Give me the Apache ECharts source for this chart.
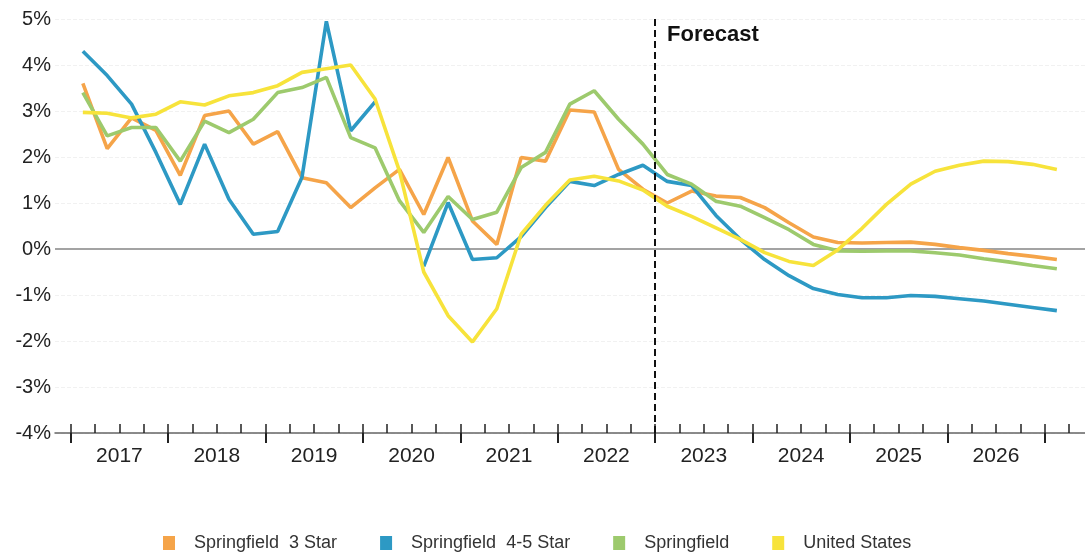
<!DOCTYPE html>
<html>
<head>
<meta charset="utf-8">
<script src="https://cdn.jsdelivr.net/npm/echarts@6/dist/echarts.min.js"></script>
<style>
  html, body { margin: 0; padding: 0; background: #fff; }
  #chart { width: 1085px; height: 555px; }
</style>
</head>
<body>
<div id="chart"></div>
<script>
// quarterly series, 2017 Q1 .. 2027 Q1 (growth, %)
const startYear = 2017;
const yearLabels = ['2017', '2018', '2019', '2020', '2021', '2022', '2023', '2024', '2025', '2026'];
const forecastStart = 2023;
const seriesNames = ['Springfield  3 Star', 'Springfield  4-5 Star', 'Springfield', 'United States'];

const star3 = [3.6, 2.18, 2.85, 2.58, 1.6, 2.9, 3.0, 2.28, 2.55, 1.55,
  1.44, 0.9, 1.33, 1.73, 0.75, 1.99, 0.61, 0.1, 1.99, 1.91,
  3.02, 2.98, 1.73, 1.3, 1.0, 1.26, 1.15, 1.12, 0.9, 0.57,
  0.26, 0.14, 0.13, 0.14, 0.15, 0.1, 0.03, -0.03, -0.1, -0.16, -0.23];
const star45 = [4.3, 3.77, 3.15, 2.1, 0.97, 2.28, 1.08, 0.32, 0.38, 1.56,
  4.95, 2.57, 3.2, null, -0.38, 1.01, -0.23, -0.19, 0.27, 0.9,
  1.47, 1.38, 1.62, 1.82, 1.47, 1.38, 0.73, 0.21, -0.23, -0.58,
  -0.86, -0.99, -1.06, -1.06, -1.01, -1.03, -1.08, -1.13, -1.2, -1.27, -1.34];
const springfield = [3.4, 2.46, 2.64, 2.64, 1.91, 2.78, 2.53, 2.82, 3.4, 3.51,
  3.73, 2.42, 2.2, 1.05, 0.36, 1.14, 0.64, 0.8, 1.77, 2.1,
  3.15, 3.44, 2.82, 2.28, 1.62, 1.41, 1.04, 0.93, 0.68, 0.42,
  0.1, -0.04, -0.05, -0.04, -0.04, -0.08, -0.13, -0.21, -0.28, -0.36, -0.43];
const unitedStates = [2.97, 2.95, 2.85, 2.93, 3.2, 3.13, 3.33, 3.4, 3.55, 3.84,
  3.92, 4.0, 3.26, 1.7, -0.5, -1.45, -2.02, -1.3, 0.32, 0.95,
  1.5, 1.58, 1.48, 1.28, 0.93, 0.71, 0.46, 0.21, -0.08, -0.27,
  -0.36, -0.02, 0.45, 0.97, 1.41, 1.69, 1.82, 1.91, 1.9, 1.84, 1.73];

const colors = ['#F5A449', '#2D99C4', '#9DCA6D', '#F7E33B'];
const font = "'Liberation Sans', Arial, sans-serif";

// each value sits in the middle of its quarter
const toPoints = (arr) => arr.map((v, i) => [startYear + (i + 0.5) / 4, v]);

const xMin = 2016.839;
const xMax = 2027.414;
const quarterTicks = [];
for (let t = startYear; t <= xMax; t += 0.25) quarterTicks.push(t);
const yearTicks = yearLabels.map(y => +y).concat([+yearLabels[yearLabels.length - 1] + 1]);
const yearMids = yearLabels.map(y => +y + 0.5);

const myChart = echarts.init(document.getElementById('chart'));

const lineSeries = (name, data, color) => ({
  name: name,
  type: 'line',
  data: toPoints(data),
  xAxisIndex: 0,
  symbol: 'none',
  connectNulls: false,
  lineStyle: { color: color, width: 3.6 },
  itemStyle: { color: color }
});

const series = [
  lineSeries(seriesNames[0], star3, colors[0]),
  lineSeries(seriesNames[1], star45, colors[1]),
  lineSeries(seriesNames[2], springfield, colors[2]),
  lineSeries(seriesNames[3], unitedStates, colors[3])
];
series[0].markLine = {
  silent: true,
  symbol: 'none',
  label: { show: false },
  z: 1,
  data: [
    { yAxis: 0, lineStyle: { color: '#a3a3a3', width: 2, type: 'solid' } }
  ]
};
series[3].markLine = {
  silent: true,
  symbol: 'none',
  label: { show: false },
  data: [
    { xAxis: forecastStart, lineStyle: { color: '#111', width: 2, type: [7, 4] } }
  ]
};
series[3].markPoint = {
  silent: true,
  symbol: 'circle',
  symbolSize: 0,
  data: [{ coord: [forecastStart, 4.66] }],
  label: {
    show: true,
    position: 'right',
    distance: 12,
    formatter: 'Forecast',
    fontFamily: font,
    fontWeight: 'bold',
    fontSize: 22,
    color: '#111'
  }
};

myChart.setOption({
  animation: false,
  backgroundColor: '#fff',
  color: colors,
  grid: { left: 55, right: 0, top: 19, bottom: 122 },
  legend: {
    data: seriesNames,
    top: 529,
    left: 158,
    icon: 'rect',
    itemWidth: 12,
    itemHeight: 14,
    itemGap: 43,
    textStyle: { fontFamily: font, fontSize: 18, color: '#333', padding: [0, 0, 0, 14] }
  },
  xAxis: [
    {
      type: 'value',
      min: xMin,
      max: xMax,
      position: 'bottom',
      axisLine: { show: true, onZero: false, lineStyle: { color: '#666', width: 1.5 } },
      axisTick: { show: true, inside: true, length: 9, customValues: quarterTicks, lineStyle: { color: '#222', width: 1.5 } },
      axisLabel: { show: false },
      splitLine: { show: false }
    },
    {
      type: 'value',
      min: xMin,
      max: xMax,
      position: 'bottom',
      axisLine: { show: false, onZero: false },
      axisTick: { show: true, inside: false, length: 10, customValues: yearTicks, lineStyle: { color: '#222', width: 2 } },
      axisLabel: {
        show: true,
        customValues: yearMids,
        formatter: (v) => String(Math.floor(v)),
        margin: 13,
        fontFamily: font,
        fontSize: 21,
        color: '#222'
      },
      splitLine: { show: false }
    }
  ],
  yAxis: {
    type: 'value',
    min: -4,
    max: 5,
    interval: 1,
    axisLine: { show: false },
    axisTick: { show: false },
    axisLabel: { formatter: '{value}%', fontFamily: font, fontSize: 20, color: '#222', margin: 4 },
    splitLine: { show: true, lineStyle: { color: '#f1f1f1', width: 1, type: 'dashed' } }
  },
  series: series
});
</script>
</body>
</html>
